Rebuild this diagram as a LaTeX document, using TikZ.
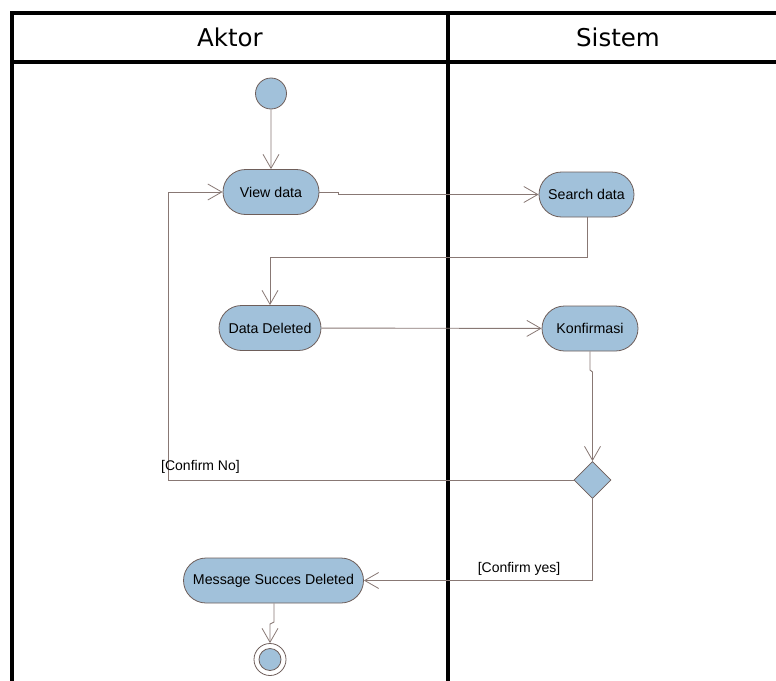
\documentclass[tikz,border=0pt]{standalone}
\usepackage{fontspec}
\setmainfont{Liberation Sans}
\newfontfamily\headfont{DejaVu Sans}
\usetikzlibrary{shapes.misc,shapes.geometric,arrows.meta}

\definecolor{actfill}{RGB}{161,193,218}
\definecolor{actborder}{RGB}{110,94,90}
\definecolor{flowline}{RGB}{136,120,116}

\tikzset{
  activity/.style={rounded rectangle, draw=actborder, fill=actfill, line width=0.8pt,
    inner sep=0pt, minimum height=45pt, font=\fontsize{14.2}{16}\selectfont, text=black},
  startnode/.style={circle, draw=actborder, fill=actfill, line width=0.8pt,
    minimum size=31pt, inner sep=0pt},
  endnode/.style={circle, draw=actborder, line width=0.8pt,
    minimum size=32pt, inner sep=0pt,
    path picture={\fill[actfill, draw=actborder, line width=0.8pt]
      (path picture bounding box.center) circle[radius=11pt];}},
  decision/.style={diamond, draw=actborder, fill=actfill, line width=0.8pt,
    minimum width=37pt, minimum height=37pt, inner sep=0pt},
  flow/.style={draw=flowline, line width=0.9pt,
    -{Straight Barb[length=14pt,width=16pt,line width=0.8pt]}},
  guard/.style={font=\fontsize{14}{16}\selectfont, inner sep=0pt},
  lane/.style={line width=4pt, black},
  lanehead/.style={font=\headfont\fontsize{24.5}{28}\selectfont, inner sep=0pt}
}

\begin{document}
\begin{tikzpicture}[x=1pt,y=-1pt]
  \useasboundingbox (0,0) rectangle (776,680);
  \begin{scope}
    \clip (0,0) rectangle (776,680);
    % swimlane frame
    \draw[lane, line join=miter] (12,690) -- (12,13) -- (790,13);
    \draw[lane] (10,62) -- (790,62);
    \draw[lane] (448,13) -- (448,690);
  \end{scope}
  \node[lanehead] (hA) at (230,37) {Aktor};
  \node[lanehead] (hS) at (618,37) {Sistem};

  % activities
  \node[startnode] (start) at (271,93.5) {};
  \node[activity, minimum width=96pt] (view) at (271,192) {View data};
  \node[activity, minimum width=95pt] (search) at (586.5,194.5) {Search data};
  \node[activity, minimum width=102pt] (deleted) at (270,328) {Data Deleted};
  \node[activity, minimum width=96pt] (konf) at (590,328.5) {Konfirmasi};
  \node[decision] (dec) at (592.5,480) {};
  \node[activity, minimum width=180pt] (msg) at (273.5,580.5) {Message Succes Deleted};
  \node[endnode] (end) at (270,659.5) {};

  % bend points
  \coordinate (v1) at (338,192);
  \coordinate (s1) at (587,257);
  \coordinate (k1) at (590,370);
  \coordinate (n1) at (168,480);
  \coordinate (m1) at (274,622);

  % control flows
  \draw[flow] (start) -- (view);
  \draw[flow] (view.east) -- (v1) -- (338,194.5) -- (search.west);
  \draw[flow] (search.south -| s1) -- (s1) -- (270,257) -- (deleted.north);
  \draw[flow] (deleted) -- (konf);
  \draw[flow] (konf.south) -- (k1) -- (592.5,372) -- (dec.north);
  \draw[flow] (dec.west) -- (n1) -- (168,192) -- (view.west);
  \draw[flow] (dec.south) |- (msg.east);
  \draw[flow] (msg.south -| m1) -- (m1) -- (270,624) -- (end.north);

  % guards
  \node[guard, anchor=west] (gno) at (161,467) {[Confirm No]};
  \node[guard] (gyes) at (519,569) {[Confirm yes]};
\end{tikzpicture}
\end{document}
